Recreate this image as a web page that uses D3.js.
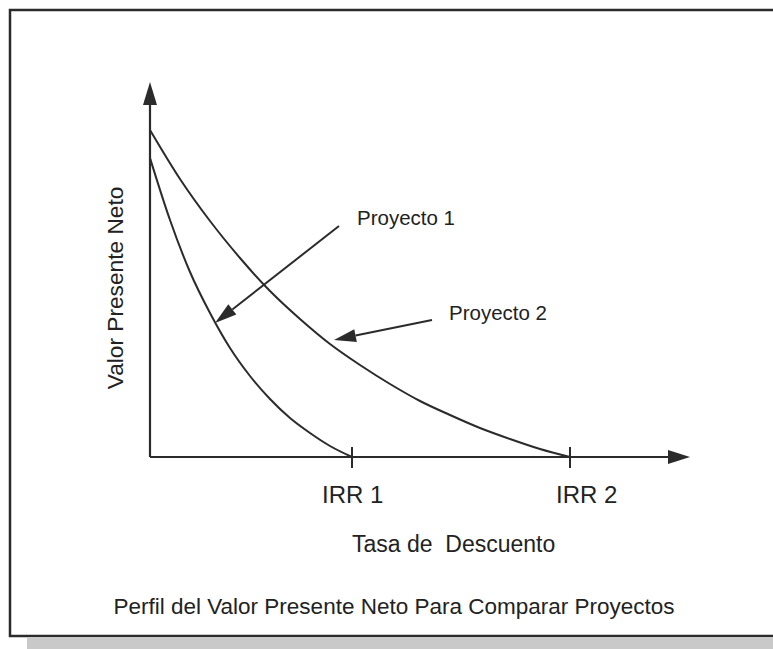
<!DOCTYPE html>
<html>
<head>
<meta charset="utf-8">
<script src="https://cdn.jsdelivr.net/npm/d3@7"></script>
<style>
  html, body { margin: 0; padding: 0; background: #fff; }
  svg { display: block; font-family: "Liberation Sans", Arial, sans-serif; }
</style>
</head>
<body>
<svg id="chart" width="773" height="649"></svg>
<script>
// NPV profile: net present value of two projects against the discount rate
const rates1 = [0, 1, 2, 3, 4, 5, 6, 7, 8, 9, 10.1];
const npv1   = [299, 237, 185, 144, 109, 81, 58, 39, 24, 11, 0];

const rates2 = [0, 1.5, 3, 4.5, 6, 7.5, 9, 10.5, 12, 13.5, 15, 16.5, 18, 19.5, 21];
const npv2   = [327, 278, 236, 199, 166, 138, 113, 92, 73, 56, 42, 29, 18, 8, 0];

const irrValues = [10.1, 21];
const irrLabels = ["IRR 1", "IRR 2"];

const seriesNames = ["Proyecto 1", "Proyecto 2"];
// where each callout arrow points (rate, npv) on its curve
const calloutRates = [3.25, 9.2];
const calloutNpv   = [134, 117];

const xTitle = "Tasa de  Descuento";
const yTitle = "Valor Presente Neto";
const caption = "Perfil del Valor Presente Neto Para Comparar Proyectos";

const svg = d3.select("#chart");
const ink = "#2b2b2b";

// panel with drop shadow
svg.append("rect").attr("x", 27).attr("y", 638).attr("width", 760).attr("height", 14).attr("fill", "#c9c9c9");
svg.append("rect").attr("x", 10).attr("y", 10).attr("width", 790).attr("height", 626)
  .attr("fill", "#fff").attr("stroke", ink).attr("stroke-width", 2.5);

const x = d3.scaleLinear().domain([0, 27]).range([150, 690]);
const y = d3.scaleLinear().domain([0, 375]).range([457, 82]);

// axes with arrowheads
const g = svg.append("g");
g.append("line").attr("x1", x(0)).attr("y1", y(0)).attr("x2", x(0)).attr("y2", y(375) + 20)
  .attr("stroke", ink).attr("stroke-width", 2.2);
g.append("line").attr("x1", x(0)).attr("y1", y(0)).attr("x2", x(27) - 20).attr("y2", y(0))
  .attr("stroke", ink).attr("stroke-width", 2.2);
g.append("path")
  .attr("d", `M${x(0)},${y(375)} L${x(0) - 7},${y(375) + 23} L${x(0) + 7},${y(375) + 23} Z`)
  .attr("fill", ink);
g.append("path")
  .attr("d", `M${x(27)},${y(0)} L${x(27) - 22},${y(0) - 7} L${x(27) - 22},${y(0) + 7} Z`)
  .attr("fill", ink);

// IRR tick marks and labels
g.selectAll("line.tick").data(irrValues).join("line")
  .attr("class", "tick")
  .attr("x1", d => x(d)).attr("x2", d => x(d))
  .attr("y1", y(0) - 10).attr("y2", y(0) + 11)
  .attr("stroke", ink).attr("stroke-width", 2);
g.selectAll("text.irr").data(irrValues).join("text")
  .attr("class", "irr")
  .attr("x", (d, i) => x(d) + (i === 0 ? -30 : -14))
  .attr("y", y(0) + 46)
  .attr("font-size", 24).attr("fill", "#222")
  .text((d, i) => irrLabels[i]);

// NPV curves
const line = d3.line().x(d => x(d[0])).y(d => y(d[1])).curve(d3.curveMonotoneX);
const series = [
  rates1.map((r, i) => [r, npv1[i]]),
  rates2.map((r, i) => [r, npv2[i]])
];
svg.append("g").selectAll("path").data(series).join("path")
  .attr("d", line)
  .attr("fill", "none").attr("stroke", ink).attr("stroke-width", 2);

// callouts: label plus arrow pointing at the curve
const callouts = [
  { name: seriesNames[0], tip: [x(calloutRates[0]), y(calloutNpv[0])], tail: [339, 226], label: [357, 225] },
  { name: seriesNames[1], tip: [x(calloutRates[1]), y(calloutNpv[1])], tail: [432, 320], label: [449, 320] }
];
const cg = svg.append("g");
callouts.forEach(c => {
  const [tx, ty] = c.tip, [sx, sy] = c.tail;
  const ang = Math.atan2(sy - ty, sx - tx);
  const len = 22, hw = 6.5;
  const bx = tx + len * Math.cos(ang), by = ty + len * Math.sin(ang);
  const px = -Math.sin(ang) * hw, py = Math.cos(ang) * hw;
  cg.append("line").attr("x1", sx).attr("y1", sy).attr("x2", bx).attr("y2", by)
    .attr("stroke", ink).attr("stroke-width", 2);
  cg.append("path")
    .attr("d", `M${tx},${ty} L${bx + px},${by + py} L${bx - px},${by - py} Z`)
    .attr("fill", ink);
  cg.append("text").attr("x", c.label[0]).attr("y", c.label[1])
    .attr("font-size", 20.5).attr("fill", "#222").text(c.name);
});

// axis titles and caption
svg.append("text").attr("x", 352).attr("y", 552)
  .attr("font-size", 23).attr("fill", "#222").attr("xml:space", "preserve")
  .style("white-space", "pre").text(xTitle);
svg.append("text").attr("transform", "translate(123,288) rotate(-90)")
  .attr("text-anchor", "middle").attr("font-size", 22.7).attr("fill", "#222").text(yTitle);
svg.append("text").attr("x", 394).attr("y", 614).attr("text-anchor", "middle")
  .attr("font-size", 22.5).attr("fill", "#222").text(caption);
</script>
</body>
</html>
